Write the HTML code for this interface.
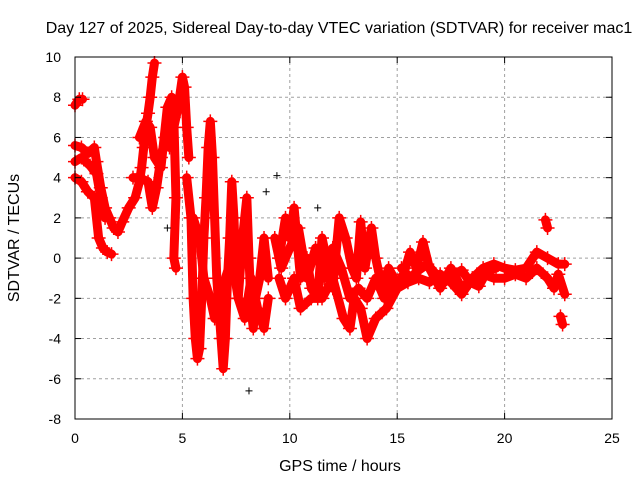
<!DOCTYPE html>
<html><head><meta charset="utf-8"><style>
body{margin:0;background:#fff}
svg text{font-family:"Liberation Sans",sans-serif;font-size:14px;fill:#000}
svg text.big{font-size:16px}
</style></head><body>
<svg id="chart" width="640" height="480" viewBox="0 0 640 480">
<text class="big" x="339" y="33" text-anchor="middle">Day 127 of 2025, Sidereal Day-to-day VTEC variation (SDTVAR) for receiver mac1</text>
<text class="big" transform="translate(19,238) rotate(-90)" text-anchor="middle">SDTVAR / TECUs</text>
<text class="big" x="340" y="471" text-anchor="middle">GPS time / hours</text>
<g id="grid"></g><g id="marks"></g><g id="axes"></g>
</svg>
<script>
const xTicks=[0,5,10,15,20,25];
const yTicks=[-8,-6,-4,-2,0,2,4,6,8,10];
const trace1=[[0,5.6],[0.3,5.5],[0.6,5.2],[0.9,5.5],[1.0,4.8],[1.2,3.5],[1.4,2.5],[1.6,2.0],[1.8,1.5],[2.0,1.3],[2.2,1.8],[2.5,2.5],[2.8,3.0],[3.0,3.8],[3.1,4.5],[3.2,5.5],[3.3,6.5],[3.4,7.2],[3.5,8.0],[3.6,9.0],[3.7,9.7]];
const trace2=[[0,4.0],[0.3,3.8],[0.6,3.3],[0.9,3.0],[1.1,1.0],[1.3,0.5],[1.5,0.3],[1.7,0.2]];
const trace3=[[0,7.6],[0.2,7.9],[0.35,7.9]];
const trace4=[[0,4.8],[0.3,5.0],[0.7,4.6],[1.0,4.2],[1.2,3.0],[1.4,2.0]];
const trace5=[[2.7,4.0],[3.0,4.0],[3.4,3.8],[3.6,2.5],[3.8,3.5],[4.0,5.0],[4.2,6.0],[4.4,5.5],[4.6,6.5],[4.8,7.5],[5.0,9.0],[5.1,8.5],[5.2,6.5],[5.3,5.0]];
const trace6=[[3.0,6.0],[3.3,6.8],[3.5,6.5],[3.7,5.0],[4.0,4.5],[4.3,7.5],[4.5,8.0],[4.6,7.0],[4.7,3.0],[4.6,0],[4.7,-0.5]];
const trace7=[[5.2,4.0],[5.4,2.0],[5.5,-2],[5.6,-4],[5.7,-5],[5.8,-4.5],[5.9,-2],[6.0,1.0],[6.1,3.0],[6.2,5.5],[6.3,6.8],[6.4,5],[6.5,2],[6.6,-1],[6.8,-4],[6.9,-5.5],[7.0,-4],[7.1,-1],[7.2,1],[7.3,3.8],[7.4,2],[7.5,-1],[7.6,-2],[7.8,1],[8.0,3.0],[8.1,0],[8.2,-2.5],[8.3,-3.5],[8.4,-2],[8.6,-1],[8.8,1],[9.0,-1]];
const trace8=[[5.5,2],[5.8,1],[6.0,-1],[6.3,-2],[6.5,-3],[6.7,-2],[7.0,-1],[7.3,0],[7.6,-2],[7.9,-3],[8.2,-1],[8.5,-2.5],[8.8,-3.5],[9.0,-2]];
const trace9=[[9.5,0],[9.8,2],[10,1],[10.2,2.5],[10.5,-1],[10.8,0],[11,-1.5],[11.3,-2],[11.5,1],[11.8,-0.5],[12,-1.5],[12.3,2],[12.6,1],[12.9,-0.5],[13.1,-1],[13.3,1.8],[13.5,-0.5],[13.8,1.5],[14,0],[14.3,-1.5],[14.6,-0.5],[15,-1.3],[15.3,-0.8],[15.6,0.3],[15.9,-0.5],[16.2,0.8],[16.5,-0.5],[17,-1.5],[17.5,-0.5],[18,-1.5],[18.5,-1],[19,-0.5],[19.5,-0.3],[20,-0.5],[20.5,-0.6],[21,-0.5],[21.5,0.3],[22,0],[22.5,-0.3],[22.8,-0.3]];
const trace10=[[9.5,-1],[9.8,-2],[10.2,-1],[10.5,-2.5],[11,-2],[11.5,-2],[12,-1],[12.5,-3],[12.8,-3.5],[13,-2],[13.3,-2.5],[13.6,-4],[14,-3],[14.5,-2.5],[15,-1.5],[15.5,-1.2],[16,-1],[16.5,-1.2],[17,-0.8],[17.5,-1.2],[18,-1.8],[18.5,-1],[19,-0.8],[19.5,-1],[20,-1],[20.5,-0.8],[21,-1],[21.5,-0.5],[22,-1],[22.3,-1.5],[22.5,-0.8],[22.8,-1.8]];
const trace11=[[21.9,1.9],[22.0,1.5]];
const trace12=[[22.6,-2.9],[22.7,-3.3]];
const trace13=[[9.3,1],[9.6,-0.5],[10,0.5],[10.4,1.5],[10.8,-1],[11.2,0.5],[11.6,-1],[12,0.5],[12.4,-0.5],[12.8,-2],[13.2,-1.5],[13.6,-2],[14,-1],[14.4,-2],[14.8,-1]];
const trace14=[[15.2,-0.5],[15.6,-1],[16,-0.6],[16.4,-0.3],[16.8,-0.8],[17.2,-1.2],[17.6,-0.9],[18,-0.6],[18.4,-1.2],[18.8,-1.4],[19.2,-0.6],[19.6,-0.5]];
const outliers=[[9.4,4.1],[8.1,-6.6],[11.3,2.5],[8.9,3.3],[4.3,1.5]];
const traces=[trace1,trace2,trace3,trace4,trace5,trace6,trace7,trace8,trace9,trace10,trace11,trace12,trace13,trace14];
const X0=75,X1=612,Y0=419,Y1=57;
function sx(t){return X0+(t-0)/(25-0)*(X1-X0);}
function sy(v){return Y0-(v+8)/(18)*(Y0-Y1);}
const NS="http://www.w3.org/2000/svg";
function mk(tag,attrs,parent){const e=document.createElementNS(NS,tag);for(const k in attrs)e.setAttribute(k,attrs[k]);parent.appendChild(e);return e;}
const grid=document.getElementById('grid'),marks=document.getElementById('marks'),axes=document.getElementById('axes');
xTicks.forEach(t=>{
 if(t>0&&t<25){const g=mk('line',{x1:sx(t),x2:sx(t),y1:Y0,y2:Y1,stroke:'#a0a0a0','stroke-dasharray':'3,3'},grid);
 
 }
 const l=mk('text',{x:sx(t),y:Y0+24,'text-anchor':'middle'},axes);l.textContent=t;
 
 
 mk('line',{x1:sx(t),x2:sx(t),y1:Y0,y2:Y0-6,stroke:'#000'},axes);
 mk('line',{x1:sx(t),x2:sx(t),y1:Y1,y2:Y1+6,stroke:'#000'},axes);
});
yTicks.forEach(v=>{
 if(v>-8&&v<10){const g=mk('line',{x1:X0,x2:X1,y1:sy(v),y2:sy(v),stroke:'#a0a0a0','stroke-dasharray':'3,3'},grid);
 
 }
 const l=mk('text',{x:X0-14,y:sy(v)+5,'text-anchor':'end'},axes);l.textContent=v;
 
 
 mk('line',{x1:X0,x2:X0+6,y1:sy(v),y2:sy(v),stroke:'#000'},axes);
 mk('line',{x1:X1,x2:X1-6,y1:sy(v),y2:sy(v),stroke:'#000'},axes);
});
const frame=mk('rect',{x:X0,y:Y1,width:X1-X0,height:Y0-Y1,fill:'none',stroke:'#000'},axes);


traces.forEach(tr=>{
 const p=mk('polyline',{points:tr.map(d=>sx(d[0])+','+sy(d[1])).join(' '),fill:'none',stroke:'#ff0000','stroke-width':9,'stroke-linejoin':'round','stroke-linecap':'round'},marks);
 
 
 tr.forEach(d=>{const x=sx(d[0]),y=sy(d[1]);
  const m=mk('path',{d:`M${x-7},${y}h14M${x},${y-7}v14`,stroke:'#ff0000','stroke-width':1.5},marks);
  
  });
});
outliers.forEach(d=>{const x=sx(d[0]),y=sy(d[1]);
 const m=mk('path',{d:`M${x-3.5},${y}h7M${x},${y-3.5}v7`,stroke:'#000','stroke-width':1},marks);
 
 });
</script>
</body></html>
